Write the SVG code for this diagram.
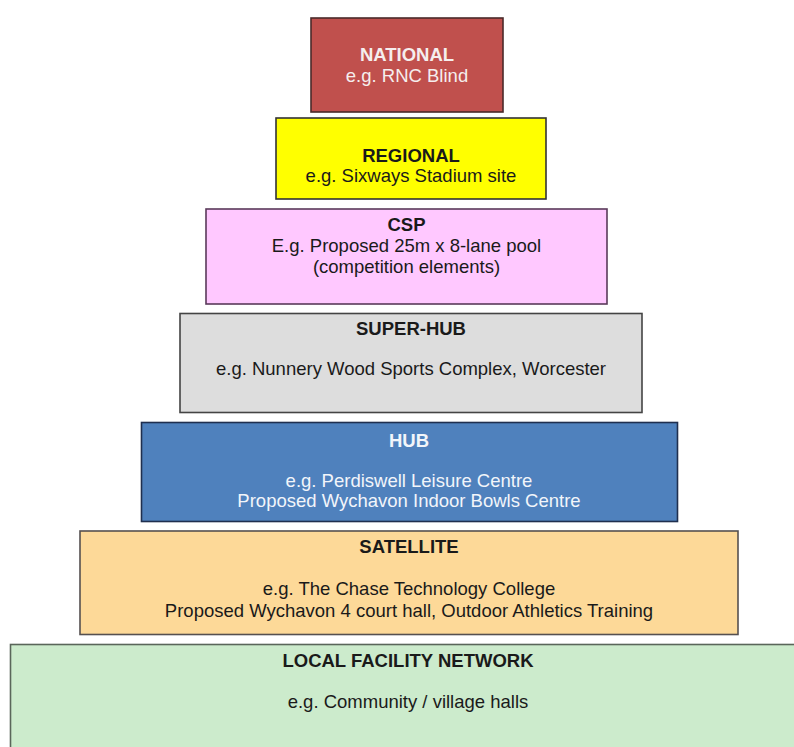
<svg xmlns="http://www.w3.org/2000/svg" width="794" height="747" viewBox="0 0 794 747">
<style>
text{font-family:"Liberation Sans",Arial,sans-serif;font-size:18.5px;text-anchor:middle}
.t{font-weight:bold}
.box{stroke-width:1.6}
.dk{fill:#1a1a1a}
.lt{fill:#f5eeee}
</style>
<rect width="794" height="747" fill="#ffffff"/>
<g id="national">
<rect class="box" x="311" y="18" width="192" height="94" fill="#c0504d" stroke="#4a2a2a"/>
<text class="t lt" x="407" y="61">NATIONAL</text>
<text class="lt" x="407" y="82">e.g. RNC Blind</text>
</g>
<g id="regional">
<rect class="box" x="276" y="118" width="270" height="81" fill="#ffff00" stroke="#333333"/>
<text class="t dk" x="411" y="162">REGIONAL</text>
<text class="dk" x="411" y="182">e.g. Sixways Stadium site</text>
</g>
<g id="csp">
<rect class="box" x="206" y="209" width="401" height="95" fill="#ffc8ff" stroke="#5a3a5a"/>
<text class="t dk" x="406.5" y="231">CSP</text>
<text class="dk" x="406.5" y="252">E.g. Proposed 25m x 8-lane pool</text>
<text class="dk" x="406.5" y="273">(competition elements)</text>
</g>
<g id="superhub">
<rect class="box" x="180" y="313.5" width="462" height="99" fill="#dddddd" stroke="#444444"/>
<text class="t dk" x="411" y="335">SUPER-HUB</text>
<text class="dk" x="411" y="375">e.g. Nunnery Wood Sports Complex, Worcester</text>
</g>
<g id="hub">
<rect class="box" x="141.5" y="422.5" width="536" height="99" fill="#4f81bd" stroke="#1f2f4f"/>
<text class="t" x="409" y="447" fill="#f2f5fa">HUB</text>
<text x="409" y="487" fill="#f2f5fa">e.g. Perdiswell Leisure Centre</text>
<text x="409" y="507" fill="#f2f5fa">Proposed Wychavon Indoor Bowls Centre</text>
</g>
<g id="satellite">
<rect class="box" x="80" y="531" width="658" height="103.5" fill="#fdd998" stroke="#555050"/>
<text class="t dk" x="409" y="553">SATELLITE</text>
<text class="dk" x="409" y="595">e.g. The Chase Technology College</text>
<text class="dk" x="409" y="617">Proposed Wychavon 4 court hall, Outdoor Athletics Training</text>
</g>
<g id="local">
<rect class="box" x="10.5" y="644.5" width="800" height="120" fill="#ccebcc" stroke="#5a665a"/>
<text class="t dk" x="408" y="667">LOCAL FACILITY NETWORK</text>
<text class="dk" x="408" y="708">e.g. Community / village halls</text>
</g>
<g id="connectors"></g>
</svg>
